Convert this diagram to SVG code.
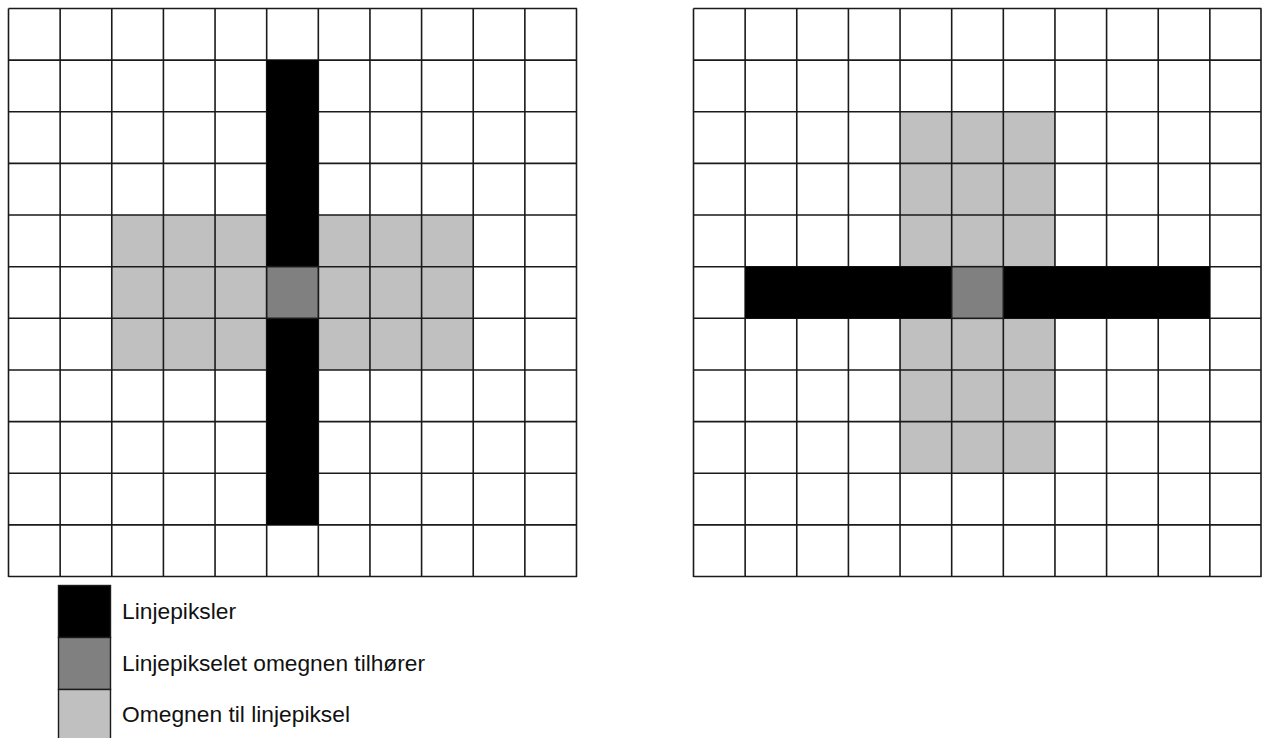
<svg xmlns="http://www.w3.org/2000/svg" width="1262" height="738" viewBox="0 0 1262 738">
<style>
.k{fill:#000}
.d{fill:#808080}
.g{fill:#c0c0c0}
.grid{fill:none;stroke:#1a1a1a;stroke-width:1.6}
.lg{stroke:#1a1a1a;stroke-width:1.4}
.cell{stroke:#1a1a1a;stroke-width:1.6}
.t{font-family:"Liberation Sans",Arial,sans-serif;font-size:22.5px;fill:#111}
</style>
<rect width="1262" height="738" fill="#fff"/>
<g id="left-grid">
<rect class="g" x="111.77" y="215.05" width="154.91" height="154.91"/>
<rect class="g" x="318.32" y="215.05" width="154.91" height="154.91"/>
<path class="grid" d="M8.5 8.5V577M60.14 8.5V577M111.77 8.5V577M163.41 8.5V577M215.05 8.5V577M266.68 8.5V577M318.32 8.5V577M369.95 8.5V577M421.59 8.5V577M473.23 8.5V577M524.86 8.5V577M576.5 8.5V577M8.5 8.5H577M8.5 60.14H577M8.5 111.77H577M8.5 163.41H577M8.5 215.05H577M8.5 266.68H577M8.5 318.32H577M8.5 369.95H577M8.5 421.59H577M8.5 473.23H577M8.5 524.86H577M8.5 576.5H577"/>
<rect class="k" x="266.68" y="60.14" width="51.64" height="464.73"/>
<rect class="d cell" x="266.68" y="266.68" width="51.64" height="51.64"/>
</g>
<g id="right-grid">
<rect class="g" x="900.05" y="111.77" width="154.91" height="154.91"/>
<rect class="g" x="900.05" y="318.32" width="154.91" height="154.91"/>
<path class="grid" d="M693.5 8.5V577M745.14 8.5V577M796.77 8.5V577M848.41 8.5V577M900.05 8.5V577M951.68 8.5V577M1003.32 8.5V577M1054.95 8.5V577M1106.59 8.5V577M1158.23 8.5V577M1209.86 8.5V577M1261 8.5V577M693.5 8.5H1261.5M693.5 60.14H1261.5M693.5 111.77H1261.5M693.5 163.41H1261.5M693.5 215.05H1261.5M693.5 266.68H1261.5M693.5 318.32H1261.5M693.5 369.95H1261.5M693.5 421.59H1261.5M693.5 473.23H1261.5M693.5 524.86H1261.5M693.5 576.5H1261.5"/>
<rect class="k" x="745.14" y="266.68" width="464.73" height="51.64"/>
<rect class="d cell" x="951.68" y="266.68" width="51.64" height="51.64"/>
</g>
<g id="legend">
<g id="legend-line">
<rect class="k lg" x="58.5" y="585.5" width="52" height="52"/>
<text class="t" x="122" y="619" textLength="114" lengthAdjust="spacingAndGlyphs">Linjepiksler</text>
</g>
<g id="legend-owner">
<rect class="d lg" x="58.5" y="637.5" width="52" height="52"/>
<text class="t" x="122" y="671" textLength="303" lengthAdjust="spacingAndGlyphs">Linjepikselet omegnen tilhører</text>
</g>
<g id="legend-neigh">
<rect class="g lg" x="58.5" y="689.5" width="52" height="52"/>
<text class="t" x="122" y="722" textLength="228" lengthAdjust="spacingAndGlyphs">Omegnen til linjepiksel</text>
</g>
</g>
</svg>
